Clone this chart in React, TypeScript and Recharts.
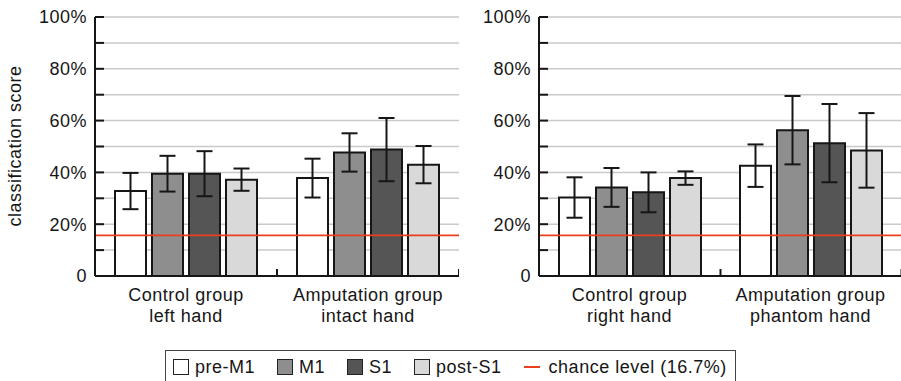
import { Bar, BarChart, CartesianGrid, ErrorBar, ReferenceLine, XAxis, YAxis } from "recharts";

const seriesKeys = ["pre", "m1", "s1", "post"];
const seriesNames = ["pre-M1", "M1", "S1", "post-S1"];
const seriesColors = ["#ffffff", "#8e8e8e", "#555555", "#d9d9d9"];

const yTicks = [0, 10, 20, 30, 40, 50, 60, 70, 80, 90, 100];
const chanceLevel = 15.7;

// left panel
const leftGroups = [
  ["Control group", "left hand"],
  ["Amputation group", "intact hand"],
];
const leftPre = [32.8, 37.8];
const leftPreErr = [7.0, 7.5];
const leftM1 = [39.5, 47.7];
const leftM1Err = [6.9, 7.4];
const leftS1 = [39.5, 48.8];
const leftS1Err = [8.7, 12.2];
const leftPost = [37.2, 43.0];
const leftPostErr = [4.3, 7.2];

// right panel
const rightGroups = [
  ["Control group", "right hand"],
  ["Amputation group", "phantom hand"],
];
const rightPre = [30.3, 42.6];
const rightPreErr = [7.8, 8.2];
const rightM1 = [34.2, 56.3];
const rightM1Err = [7.5, 13.2];
const rightS1 = [32.3, 51.3];
const rightS1Err = [7.7, 15.1];
const rightPost = [37.8, 48.5];
const rightPostErr = [2.6, 14.4];

const font = "'Liberation Sans', Arial, Helvetica, sans-serif";
const ink = "#161616";
const red = "#ec3f1d";

function buildRows(groups: string[][], vals: number[][], errs: number[][]) {
  return groups.map((g, i) => {
    const row: any = { name: g.join("\n") };
    seriesKeys.forEach((k, s) => {
      row[k] = vals[s][i];
      row[k + "Err"] = errs[s][i];
    });
    return row;
  });
}

const leftData = buildRows(
  leftGroups,
  [leftPre, leftM1, leftS1, leftPost],
  [leftPreErr, leftM1Err, leftS1Err, leftPostErr]
);
const rightData = buildRows(
  rightGroups,
  [rightPre, rightM1, rightS1, rightPost],
  [rightPreErr, rightM1Err, rightS1Err, rightPostErr]
);

const YTick = (props: any) => {
  const { x, y, payload } = props;
  const v = payload.value;
  return (
    <g>
      {v > 0 && <line x1={x} x2={x + 9} y1={y} y2={y} stroke={ink} strokeWidth={2} />}
      {v % 20 === 0 && (
        <text x={x - 8} y={y} dy="0.36em" textAnchor="end" fontFamily={font} fontSize={18} letterSpacing={0.5} fill={ink}>
          {v === 0 ? "0" : v + "%"}
        </text>
      )}
    </g>
  );
};

const XTick = (props: any) => {
  const { x, y, payload } = props;
  const lines = String(payload.value).split("\n");
  return (
    <g>
      <line x1={x + 91} x2={x + 91} y1={y} y2={y - 7} stroke={ink} strokeWidth={2} />
      {lines.map((t, i) => (
        <text key={i} x={x} y={y + 25 + i * 21} textAnchor="middle" fontFamily={font} fontSize={18} letterSpacing={0.5} fill={ink}>
          {t}
        </text>
      ))}
    </g>
  );
};

function Panel({ data, width, yWidth }: { data: any[]; width: number; yWidth: number }) {
  return (
    <BarChart
      width={width}
      height={340}
      data={data}
      margin={{ top: 17, right: 0, bottom: 0, left: 0 }}
      barSize={31}
      barGap={6}
    >
      <CartesianGrid vertical={false} stroke="#c9c9c9" strokeWidth={1.5} />
      <XAxis
        dataKey="name"
        height={64}
        axisLine={{ stroke: ink, strokeWidth: 2 }}
        tickLine={false}
        tickSize={0}
        tickMargin={0}
        tick={<XTick />}
        interval={0}
      />
      <YAxis
        width={yWidth}
        domain={[0, 100]}
        ticks={yTicks}
        interval={0}
        axisLine={{ stroke: ink, strokeWidth: 2 }}
        tickLine={false}
        tickSize={0}
        tickMargin={0}
        tick={<YTick />}
      />
      {seriesKeys.map((k, s) => (
        <Bar key={k} dataKey={k} name={seriesNames[s]} fill={seriesColors[s]} stroke={ink} strokeWidth={2} isAnimationActive={false}>
          <ErrorBar dataKey={k + "Err"} width={8} stroke={ink} strokeWidth={2} />
        </Bar>
      ))}
      <ReferenceLine y={chanceLevel} stroke={red} strokeWidth={1.6} />
    </BarChart>
  );
}

export default function App() {
  return (
    <div style={{ position: "absolute", left: 0, top: 0, width: 901, height: 381, overflow: "hidden", background: "#fff" }}>
      <div style={{ position: "absolute", left: 0, top: 0 }}>
        <Panel data={leftData} width={459} yWidth={95} />
      </div>
      <div style={{ position: "absolute", left: 460, top: 0 }}>
        <Panel data={rightData} width={441} yWidth={79} />
      </div>
      <svg style={{ position: "absolute", left: 0, top: 0 }} width={40} height={300}>
        <text
          x={0}
          y={0}
          transform="translate(21 146) rotate(-90)"
          textAnchor="middle"
          fontFamily={font}
          fontSize={18}
          letterSpacing={0.5}
          fill={ink}
        >
          classification score
        </text>
      </svg>
      <div
        style={{
          position: "absolute",
          left: 165,
          top: 350,
          width: 571,
          height: 40,
          boxSizing: "border-box",
          border: "1.5px solid #444",
          paddingTop: 6,
          paddingLeft: 7,
          display: "flex",
          alignItems: "flex-start",
          fontFamily: font,
          fontSize: 18,
          letterSpacing: 0.5,
          color: ink,
          lineHeight: "20px",
        }}
      >
        {seriesNames.map((n, s) => (
          <div key={n} style={{ display: "flex", alignItems: "center", marginRight: 22, height: 20 }}>
            <span
              style={{
                display: "inline-block",
                width: 14,
                height: 14,
                border: "1px solid #222",
                background: seriesColors[s],
                marginRight: 6,
              }}
            />
            <span>{n}</span>
          </div>
        ))}
        <div style={{ display: "flex", alignItems: "center", height: 20 }}>
          <span style={{ display: "inline-block", width: 16, height: 2, background: red, marginRight: 9 }} />
          <span>chance level (16.7%)</span>
        </div>
      </div>
    </div>
  );
}
